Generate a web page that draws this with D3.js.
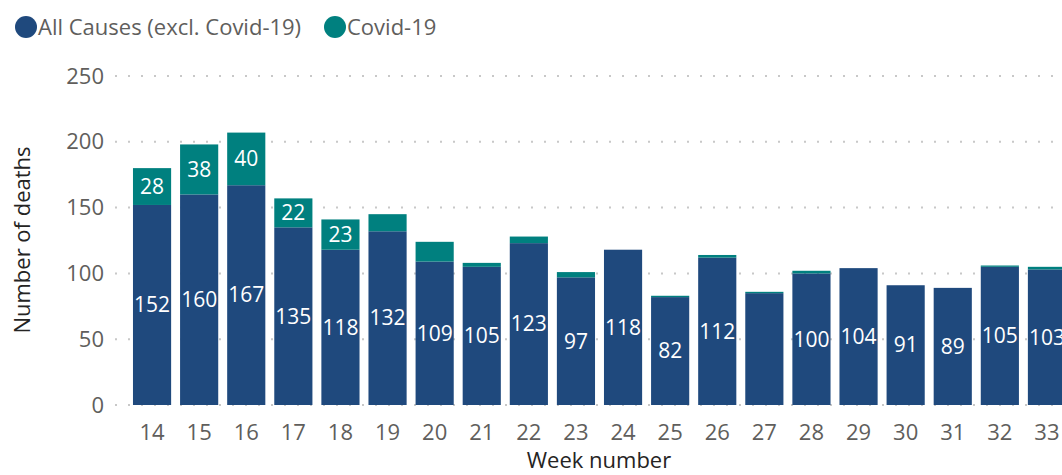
<!DOCTYPE html>
<html>
<head>
<script src="https://d3js.org/d3.v7.min.js"></script>
<style>
  body { margin: 0; background: white; }
  text { font-family: "Open Sans", "Noto Sans", sans-serif; }
  .tick text { fill: #605e5c; font-size: 22px; }
</style>
</head>
<body>
<svg id="canvas" width="1062" height="475"></svg>
<script>
// data
const weeks = [14, 15, 16, 17, 18, 19, 20, 21, 22, 23, 24, 25, 26, 27, 28, 29, 30, 31, 32, 33]
const allCauses = [152, 160, 167, 135, 118, 132, 109, 105, 123, 97, 118, 82, 112, 85, 100, 104, 91, 89, 105, 103]
const covid = [28, 38, 40, 22, 23, 13, 15, 3, 5, 4, 0, 1, 2, 1, 2, 0, 0, 0, 1, 2]
const yTicks = [0, 50, 100, 150, 200, 250]
// weeks whose all-causes label is not shown in the original
const hiddenLabels = [27]

const blue = '#1f497d'
const teal = '#00807f'
const grey = '#605e5c'

const svg = d3.select('#canvas')

const x = d3.scaleBand()
    .domain(weeks)
    .range([128.5, 1070.5])
    .paddingInner(0.19)
    .paddingOuter(0.095)

const y = d3.scaleLinear().domain([0, 250]).range([405, 76])

// dotted gridlines
svg.append('g').selectAll('line')
    .data(yTicks)
    .enter()
    .append('line')
        .attr('x1', 115)
        .attr('x2', 1062)
        .attr('y1', d => y(d))
        .attr('y2', d => y(d))
        .attr('stroke', '#c8c8c8')
        .attr('stroke-width', 2)
        .attr('stroke-dasharray', '2 11')

// y axis
const yAxis = d3.axisLeft(y).tickValues(yTicks).tickSize(0).tickPadding(0)
svg.append('g')
    .attr('transform', 'translate(104,0)')
    .call(yAxis)
    .call(g => g.select('.domain').remove())

// x axis
const xAxis = d3.axisBottom(x).tickSize(0).tickPadding(0)
svg.append('g')
    .attr('transform', 'translate(0,424)')
    .call(xAxis)
    .call(g => g.select('.domain').remove())
    .selectAll('text').attr('dy', '0.71em')

const rows = weeks.map((w, i) => ({ week: w, a: allCauses[i], c: covid[i] }))

// stacked bars
svg.append('g').selectAll('rect')
    .data(rows)
    .enter()
    .append('rect')
        .attr('x', d => x(d.week))
        .attr('width', x.bandwidth())
        .attr('y', d => y(d.a))
        .attr('height', d => y(0) - y(d.a))
        .attr('fill', blue)

svg.append('g').selectAll('rect')
    .data(rows.filter(d => d.c > 0))
    .enter()
    .append('rect')
        .attr('x', d => x(d.week))
        .attr('width', x.bandwidth())
        .attr('y', d => y(d.a + d.c))
        .attr('height', d => y(d.a) - y(d.a + d.c))
        .attr('fill', teal)

// data labels
svg.append('g').selectAll('text')
    .data(rows.filter(d => !hiddenLabels.includes(d.week)))
    .enter()
    .append('text')
        .attr('x', d => x(d.week) + x.bandwidth() / 2)
        .attr('y', d => (y(0) + y(d.a)) / 2)
        .attr('dy', '0.35em')
        .attr('text-anchor', 'middle')
        .attr('fill', 'white')
        .attr('font-size', 21)
        .text(d => d.a)

svg.append('g').selectAll('text')
    .data(rows.filter(d => d.c >= 20))
    .enter()
    .append('text')
        .attr('x', d => x(d.week) + x.bandwidth() / 2)
        .attr('y', d => (y(d.a) + y(d.a + d.c)) / 2)
        .attr('dy', '0.35em')
        .attr('text-anchor', 'middle')
        .attr('fill', 'white')
        .attr('font-size', 21)
        .text(d => d.c)

// axis titles
svg.append('text')
    .attr('transform', 'translate(30,240) rotate(-90)')
    .attr('text-anchor', 'middle')
    .attr('fill', '#252423')
    .attr('font-size', 22)
    .text('Number of deaths')

svg.append('text')
    .attr('x', 599)
    .attr('y', 468)
    .attr('text-anchor', 'middle')
    .attr('fill', '#252423')
    .attr('font-size', 22)
    .text('Week number')

// legend
const legend = [
    { label: 'All Causes (excl. Covid-19)', color: blue, cx: 26 },
    { label: 'Covid-19', color: teal, cx: 335 }
]
const lg = svg.append('g').selectAll('g')
    .data(legend)
    .enter()
    .append('g')
lg.append('circle')
    .attr('cx', d => d.cx)
    .attr('cy', 27)
    .attr('r', 11)
    .attr('fill', d => d.color)
lg.append('text')
    .attr('x', d => d.cx + 12)
    .attr('y', 27)
    .attr('dy', '0.35em')
    .attr('fill', grey)
    .attr('font-size', 22)
    .text(d => d.label)
</script>
</body>
</html>
